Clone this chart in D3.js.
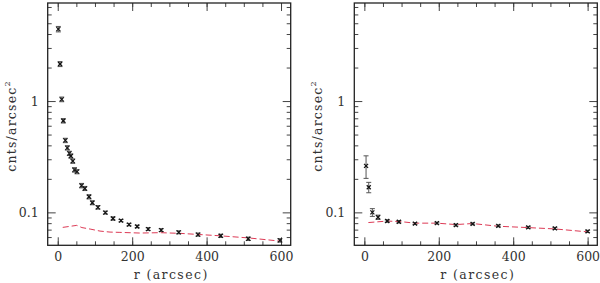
<!DOCTYPE html>
<html>
<head>
<meta charset="utf-8">
<script src="https://cdn.jsdelivr.net/npm/d3@7"></script>
<style>
  body { margin: 0; background: #fff; }
  text { font-family: "DejaVu Serif", serif; fill: #333; }
</style>
</head>
<body>
<div class="chart"></div>
<script>
// left panel: measured profile
var leftR   = [1.6, 6.2, 10.7, 15, 20.4, 25.8, 31.2, 35.2, 40.3, 45, 51.8, 64, 72.8, 84, 93, 108,
               128, 148.5, 170, 191.5, 213.5, 243, 278, 325, 377, 438, 512, 597];
var leftVal = [4.43, 2.15, 1.036, 0.665, 0.443, 0.380, 0.339, 0.321, 0.289, 0.241, 0.232, 0.174,
               0.164, 0.138, 0.122, 0.111, 0.0996, 0.0881, 0.0844, 0.0777, 0.0747, 0.0708,
               0.0693, 0.0662, 0.0632, 0.0616, 0.0579, 0.0560];
var leftErr = [0.25, 0.11, 0.05, 0.03, 0.02, 0.017, 0.015, 0.014, 0.013, 0.011, 0.010, 0.008,
               0.007, 0.006, 0.005, 0.004, 0.003, 0.003, 0.002, 0.002, 0.002, 0.002,
               0.002, 0.002, 0.002, 0.002, 0.002, 0.002];
// left panel: background model (red dashed)
var leftBgR   = [13.4, 33, 51, 65, 87, 113.6, 140.5, 167, 221, 275, 328, 382, 436, 516, 597];
var leftBgVal = [0.0733, 0.0749, 0.0764, 0.0730, 0.0708, 0.0679, 0.0665, 0.0661, 0.0652,
                 0.0657, 0.0648, 0.0632, 0.0616, 0.0588, 0.0552];

// right panel
var rightR   = [4.6, 11.8, 21.5, 36.8, 61.5, 92.7, 136, 195, 246, 291, 360, 440.5, 512, 600];
var rightVal = [0.262, 0.168, 0.100, 0.0904, 0.0836, 0.0823, 0.0792, 0.0801, 0.0769, 0.0789,
                0.0757, 0.0733, 0.0718, 0.0675];
var rightErr = [0.06, 0.018, 0.008, 0.004, 0.002, 0.002, 0.0015, 0.0015, 0.0015, 0.0015,
                0.0015, 0.0015, 0.0015, 0.0015];
var rightBgR   = [10.8, 61, 95.8, 136, 195, 246, 291, 358, 439, 512, 600];
var rightBgVal = [0.0810, 0.0835, 0.0827, 0.0800, 0.0800, 0.0777, 0.0794, 0.0751, 0.0730,
                  0.0710, 0.0668];

var xMajor = [0, 200, 400, 600];
var xMinor = d3.range(0, 601, 50);
var yMajor = [0.1, 1];
var yMinor = [0.06, 0.07, 0.08, 0.09, 0.2, 0.3, 0.4, 0.5, 0.6, 0.7, 0.8, 0.9, 2, 3, 4, 5, 6, 7];

var svg = d3.select(".chart")
    .append("svg")
    .attr("width", 600)
    .attr("height", 283);

var top_ = 3, bottom = 245.3;

function panel(x0, x1, r, val, err, bgR, bgVal) {
  var x = d3.scaleLinear().domain([-27, 626]).range([x0, x1]);
  var y = d3.scaleLog().domain([0.0506, 7.6]).range([bottom, top_]);
  var g = svg.append("g");

  // ticks on all four sides, pointing in
  function tk(axis, tx, ty, size, vals, labels, pad) {
    var a = axis.tickValues(vals).tickSize(size).tickPadding(pad || 3);
    if (!labels) a.tickFormat("");
    else a.tickFormat(function(d) { return String(d); });
    var ag = g.append("g")
      .attr("transform", "translate(" + tx + "," + ty + ")")
      .call(a);
    ag.select(".domain").remove();
    ag.selectAll("line").attr("stroke", "#444");
    ag.selectAll("text").attr("font-size", 12.5)
      .attr("font-family", "DejaVu Serif, serif").attr("fill", "#333");
    return ag;
  }
  tk(d3.axisBottom(x), 0, bottom, -8, xMajor, true, 7);
  tk(d3.axisBottom(x), 0, bottom, -4, xMinor, false);
  tk(d3.axisTop(x), 0, top_, -8, xMajor, false);
  tk(d3.axisTop(x), 0, top_, -4, xMinor, false);
  tk(d3.axisLeft(y), x0, 0, -8, yMajor, true, 9);
  tk(d3.axisLeft(y), x0, 0, -4, yMinor, false);
  tk(d3.axisRight(y), x1, 0, -8, yMajor, false);
  tk(d3.axisRight(y), x1, 0, -4, yMinor, false);

  g.append("rect")
    .attr("x", x0).attr("y", top_)
    .attr("width", x1 - x0).attr("height", bottom - top_)
    .attr("fill", "none").attr("stroke", "#222").attr("stroke-width", 1.3);

  // background model
  var line = d3.line()
    .x(function(d, i) { return x(bgR[i]); })
    .y(function(d) { return y(d); });
  g.append("path")
    .datum(bgVal)
    .attr("d", line)
    .attr("fill", "none")
    .attr("stroke", "#dd3a55")
    .attr("stroke-width", 1)
    .attr("stroke-dasharray", "6,3");

  // error bars + x markers
  var pts = g.selectAll(".pt").data(val).enter().append("g").attr("class", "pt");
  pts.append("line")
    .attr("x1", function(d, i) { return x(r[i]); })
    .attr("x2", function(d, i) { return x(r[i]); })
    .attr("y1", function(d, i) { return y(d + err[i]); })
    .attr("y2", function(d, i) { return y(d - err[i]); })
    .attr("stroke", "#555").attr("stroke-width", 1);
  [1, -1].forEach(function(s) {
    pts.append("line")
      .attr("x1", function(d, i) { return x(r[i]) - 2.5; })
      .attr("x2", function(d, i) { return x(r[i]) + 2.5; })
      .attr("y1", function(d, i) { return y(d + s * err[i]); })
      .attr("y2", function(d, i) { return y(d + s * err[i]); })
      .attr("stroke", "#555").attr("stroke-width", 1);
  });
  [1, -1].forEach(function(s) {
    pts.append("line")
      .attr("x1", function(d, i) { return x(r[i]) - 2; })
      .attr("x2", function(d, i) { return x(r[i]) + 2; })
      .attr("y1", function(d) { return y(d) - 2 * s; })
      .attr("y2", function(d) { return y(d) + 2 * s; })
      .attr("stroke", "#111").attr("stroke-width", 1.2);
  });

  // axis titles
  g.append("text")
    .attr("x", (x0 + x1) / 2 + 2)
    .attr("y", 279)
    .attr("text-anchor", "middle")
    .attr("font-size", 12.5)
    .attr("letter-spacing", 1.4)
    .text("r (arcsec)");

  var yl = g.append("text")
    .attr("transform", "translate(" + (x0 - 32) + ",126) rotate(-90)")
    .attr("text-anchor", "middle")
    .attr("font-size", 12.5)
    .attr("letter-spacing", 1.2);
  yl.append("tspan").text("cnts/arcsec");
  yl.append("tspan").attr("font-size", 8).attr("dy", -6).text("2");
}

panel(47.7, 290.7, leftR, leftVal, leftErr, leftBgR, leftBgVal);
panel(354.3, 597.3, rightR, rightVal, rightErr, rightBgR, rightBgVal);
</script>
</body>
</html>
